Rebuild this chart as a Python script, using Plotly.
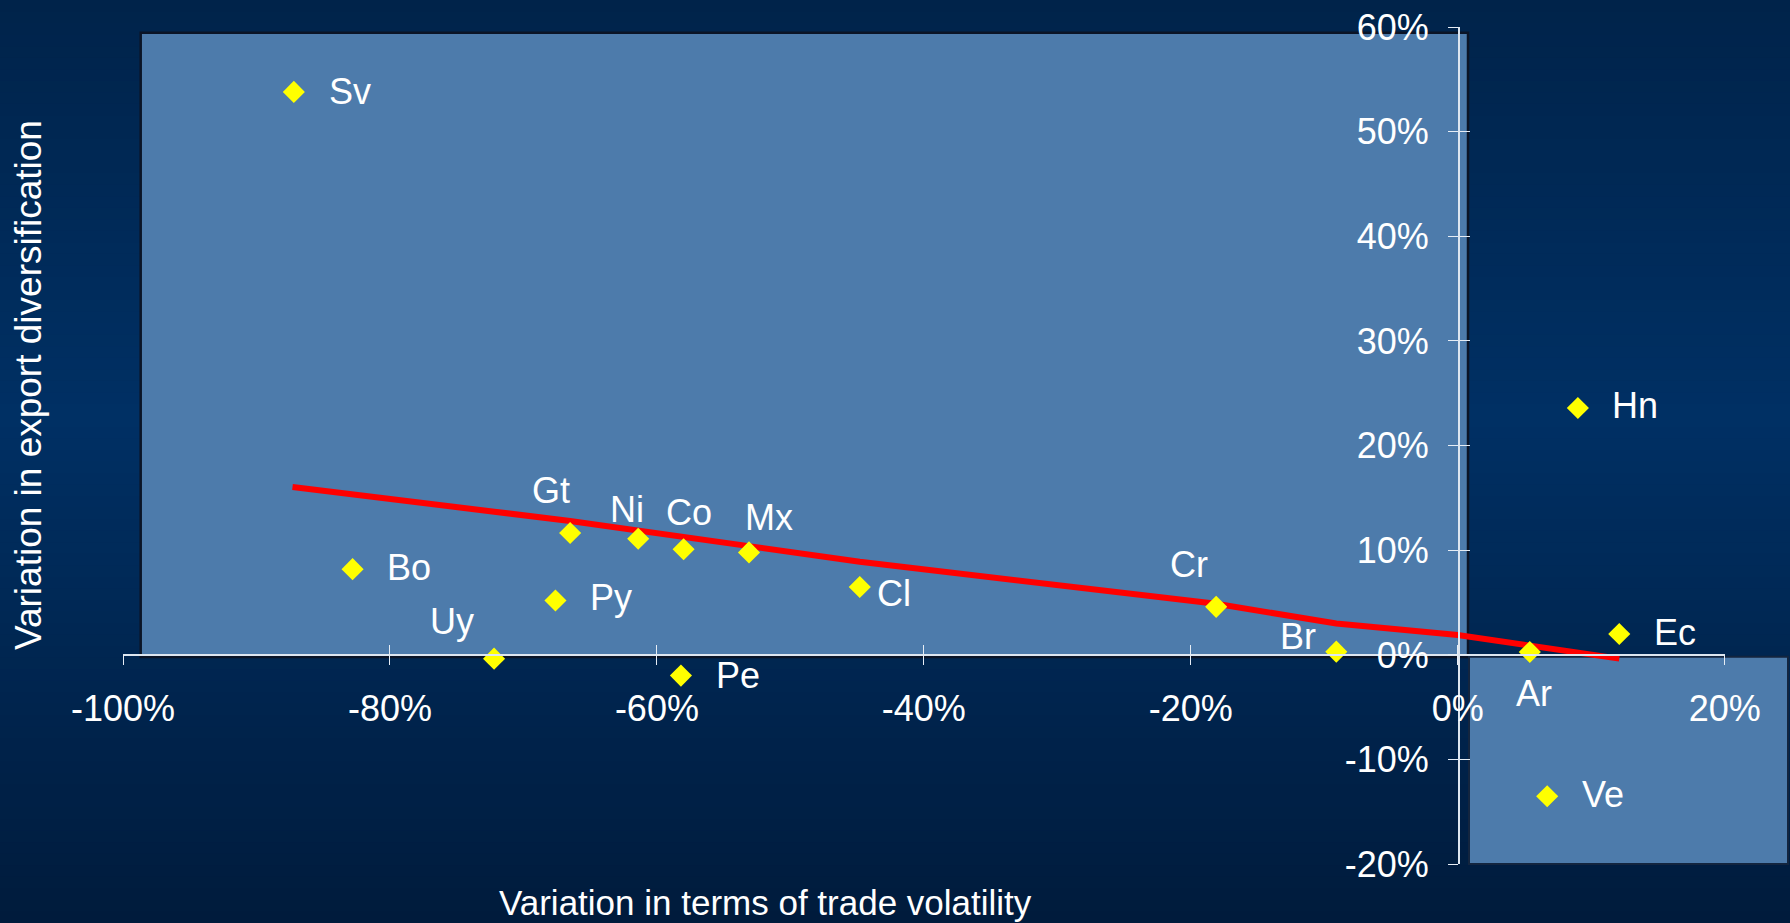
import numpy as np
import plotly.graph_objects as go

# ---------------- data (values in %) ----------------
countries = ["Sv", "Bo", "Uy", "Py", "Gt", "Ni", "Co", "Pe", "Mx", "Cl",
             "Cr", "Br", "Ar", "Hn", "Ec", "Ve"]
tot_volatility_var = [-87.2, -82.8, -72.2, -67.6, -66.5, -61.4, -58.0, -58.2,
                      -53.1, -44.8, -18.1, -9.1, 5.4, 9.0, 12.1, 6.7]
export_divers_var = [53.8, 8.2, -0.35, 5.2, 11.65, 11.1, 10.1, -1.97,
                     9.8, 6.5, 4.6, 0.32, 0.29, 23.6, 2.0, -13.5]

trend_x = [-87.3, -66.5, -53.1, -44.8, -18.1, -9.1, 0.0, 12.1]
trend_y = [16.05, 12.8, 10.4, 8.9, 4.9, 3.0, 1.9, -0.35]

x_ticks = [-100, -80, -60, -40, -20, 0, 20]
x_ticklabels = ["-100%", "-80%", "-60%", "-40%", "-20%", "0%", "20%"]
y_ticks = [-20, -10, 0, 10, 20, 30, 40, 50, 60]
y_ticklabels = ["-20%", "-10%", "0%", "10%", "20%", "30%", "40%", "50%", "60%"]

# ---------------- styling ----------------
W, H = 1790, 923
FONT = "Liberation Sans, Arial, sans-serif"
WHITE = "#ffffff"


def px(xp):
    return xp / W


def py(yp):
    return 1 - yp / H


# label pixel offsets (dx right, dy down) and anchor
label_style = {
    "Sv": (33, 0, "left"), "Bo": (32, -2, "left"), "Uy": (-42, -37, "center"),
    "Py": (33, -3, "left"), "Gt": (-19, -43, "center"), "Ni": (-11, -29, "center"),
    "Co": (5, -37, "center"), "Pe": (33, 0, "left"), "Mx": (20, -35, "center"),
    "Cl": (15, 7, "left"), "Cr": (-27, -42, "center"), "Br": (-38, -15, "center"),
    "Ar": (4, 42, "center"), "Hn": (32, -2, "left"), "Ec": (33, -2, "left"),
    "Ve": (33, -2, "left"),
}

fig = go.Figure()

fig.add_trace(go.Scatter(
    x=trend_x, y=trend_y, mode="lines",
    line=dict(color="#ff0000", width=6), showlegend=False, hoverinfo="skip"))

fig.add_trace(go.Scatter(
    x=tot_volatility_var, y=export_divers_var, mode="markers",
    marker=dict(symbol="diamond", size=17, color="#ffff00", line=dict(width=0)),
    text=countries, showlegend=False))

# helper trace on overlay axes (for crossing ticks)
fig.add_trace(go.Scatter(x=[0], y=[0], xaxis="x2", yaxis="y2", mode="markers",
                         marker=dict(opacity=0), showlegend=False, hoverinfo="skip"))

shapes = []
# background gradient
stops_pos = [0.0, 0.45, 1.0]
stops_col = [(0, 35, 74), (0, 48, 100), (0, 27, 60)]
n_bands = 80
for i in range(n_bands):
    t = (i + 0.5) / n_bands
    c = [int(round(np.interp(t, stops_pos, [s[k] for s in stops_col]))) for k in range(3)]
    shapes.append(dict(type="rect", xref="paper", yref="paper", layer="below",
                       x0=0, x1=1, y0=1 - i / n_bands, y1=1 - (i + 1) / n_bands - 0.001,
                       line=dict(width=0), fillcolor=f"rgb({c[0]},{c[1]},{c[2]})"))
# quadrant panels
panel = "#4d7bab"
shapes.append(dict(type="rect", xref="paper", yref="paper", layer="below",
                   x0=px(140.7), x1=px(1468), y0=py(657), y1=py(32.7),
                   fillcolor=panel, line=dict(color="#0b1426", width=2.5)))
shapes.append(dict(type="rect", xref="paper", yref="paper", layer="below",
                   x0=px(1469), x1=px(1788), y0=py(864), y1=py(656.7),
                   fillcolor=panel, line=dict(color="#13253f", width=2)))

annotations = []
for name, xv, yv in zip(countries, tot_volatility_var, export_divers_var):
    dx, dy, anchor = label_style[name]
    annotations.append(dict(x=xv, y=yv, xref="x", yref="y", text=name,
                            showarrow=False, xanchor=anchor, yanchor="middle",
                            xshift=dx, yshift=-dy,
                            font=dict(family=FONT, size=36, color=WHITE)))

annotations.append(dict(text="Variation in terms of trade volatility",
                        xref="paper", yref="paper", x=px(765), y=0,
                        xanchor="center", yanchor="bottom", showarrow=False,
                        borderpad=0,
                        font=dict(family=FONT, size=35, color=WHITE)))
annotations.append(dict(text="Variation in export diversification",
                        xref="paper", yref="paper", x=px(29), y=py(385),
                        xanchor="center", yanchor="middle", showarrow=False,
                        textangle=-90,
                        font=dict(family=FONT, size=37, color=WHITE)))

xdom = [px(123), px(1724.7)]
ydom = [py(864.3), py(27)]
x_pos = py(654.7)
y_pos = px(1458.7)

axis_common = dict(showgrid=False, zeroline=False, showline=True,
                   linecolor="#dde6f0", linewidth=1.5, tickcolor="#e6edf5",
                   tickwidth=1, ticklen=10, automargin=False,
                   tickfont=dict(family=FONT, size=36, color=WHITE),
                   tickmode="array")

fig.update_layout(
    width=W, height=H, autosize=False,
    margin=dict(l=0, r=0, t=0, b=0, pad=0),
    paper_bgcolor="#002b5a", plot_bgcolor="rgba(0,0,0,0)",
    showlegend=False,
    shapes=shapes, annotations=annotations,
    xaxis=dict(range=[-100, 20], domain=xdom, anchor="free", position=x_pos,
               side="bottom", tickvals=x_ticks, ticktext=x_ticklabels,
               ticks="outside", ticklabelstandoff=12, **axis_common),
    yaxis=dict(range=[-20, 60], domain=ydom, anchor="free", position=y_pos,
               side="left", tickvals=y_ticks, ticktext=y_ticklabels,
               ticks="outside", ticklabelstandoff=12, **axis_common),
    xaxis2=dict(range=[-100, 20], domain=xdom, anchor="free", position=x_pos,
                overlaying="x", side="bottom", tickvals=x_ticks, ticks="inside",
                showticklabels=False, showline=False, showgrid=False,
                automargin=False,
                zeroline=False, ticklen=10, tickcolor="#e6edf5", tickwidth=1),
    yaxis2=dict(range=[-20, 60], domain=ydom, anchor="free", position=y_pos,
                overlaying="y", side="left", tickvals=y_ticks, ticks="inside",
                showticklabels=False, showline=False, showgrid=False,
                automargin=False,
                zeroline=False, ticklen=10, tickcolor="#e6edf5", tickwidth=1),
)

fig.write_html("out.html")
